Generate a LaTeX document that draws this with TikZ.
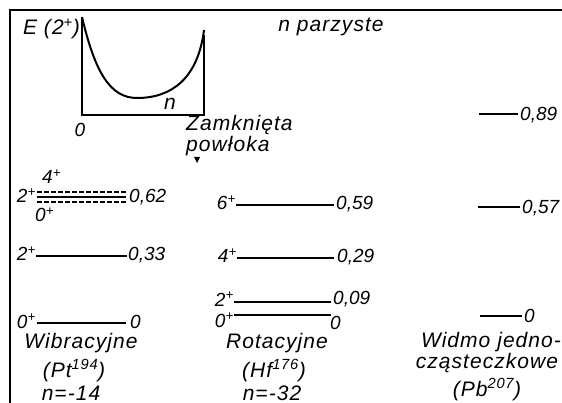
\documentclass[tikz,border=0pt]{standalone}
\usepackage{fontspec}
\newfontfamily\hand{Liberation Sans}[LetterSpace=5]
\newfontfamily\handnum{Liberation Sans}
\newcommand\plusup{\textsuperscript{+}}
\begin{document}
\begin{tikzpicture}[x=1pt,y=-1pt,
  lvl/.style={line width=1.4pt},
  dsh/.style={line width=1.4pt, dash pattern=on 5pt off 2pt},
  axis/.style={line width=1.6pt},
  frame/.style={line width=1.8pt},
  txt/.style={font=\hand\itshape\fontsize{21}{23}\selectfont, inner sep=0pt},
  num/.style={font=\handnum\itshape\fontsize{19}{21}\selectfont, inner sep=0pt}]
\useasboundingbox (0,0) rectangle (562,403);
% frame
\coordinate (fa) at (10,403);
\coordinate (fb) at (10,10);
\coordinate (fc) at (562,10);
\draw[frame] (fa) -- (fb) -- (fc);
% inset graph
\coordinate (ga) at (82,17);
\coordinate (go) at (82,115);
\coordinate (gb) at (204,115);
\coordinate (gc) at (204,35);
\draw[axis] (ga) -- (go) -- (gb) -- (gc);
\draw[line width=2pt] (ga) .. controls (95,72) and (110,98) .. (137,98)
  .. controls (172,98) and (198,78) .. (204,30);
\node[txt, anchor=base east] (E) at (80,35) {E (2\plusup)};
\node[txt, anchor=base] (ncur) at (170,110) {n};
\node[num, anchor=base] (zero) at (80,137) {0};
\node[txt, anchor=base west] (zam) at (186,131) {Zamknięta};
\node[txt, anchor=base west] (pow) at (186,152) {powłoka};
\fill (194,157) -- (200,157) -- (197,163) -- cycle;
\node[txt, anchor=base] (npar) at (331,32) {n parzyste};
% column 1: Wibracyjne
\coordinate (w0a) at (37,323); \coordinate (w0b) at (126,323);
\draw[lvl] (w0a) -- (w0b);
\node[num, anchor=base east] (w0L) at (36,328) {0\plusup};
\node[num, anchor=base west] (w0R) at (130,328) {0};
\coordinate (w2a) at (36,256); \coordinate (w2b) at (127,256);
\draw[lvl] (w2a) -- (w2b);
\node[num, anchor=base east] (w2L) at (36,261) {2\plusup};
\node[num, anchor=base west] (w2R) at (128,261) {0,33};
\coordinate (t1a) at (37,192); \coordinate (t1b) at (126,192);
\coordinate (t2a) at (37,197); \coordinate (t2b) at (126,197);
\coordinate (t3a) at (37,202); \coordinate (t3b) at (126,202);
\draw[dsh] (t1a) -- (t1b);
\draw[lvl] (t2a) -- (t2b);
\draw[dsh] (t3a) -- (t3b);
\node[num, anchor=base east] (t2L) at (36,203) {2\plusup};
\node[num, anchor=base west] (t1L) at (42,184) {4\plusup};
\node[num, anchor=base west] (t3L) at (35,222) {0\plusup};
\node[num, anchor=base west] (tR) at (129,203) {0,62};
\node[txt, anchor=base] (wib) at (81,348) {Wibracyjne};
\node[txt, anchor=base] (pt) at (74,377) {(Pt\textsuperscript{194})};
\node[txt, anchor=base] (n14) at (71,400) {n=-14};
% column 2: Rotacyjne
\coordinate (r6a) at (236,205); \coordinate (r6b) at (334,205);
\draw[lvl] (r6a) -- (r6b);
\node[num, anchor=base east] (r6L) at (236,210) {6\plusup};
\node[num, anchor=base west] (r6R) at (336,210) {0,59};
\coordinate (r4a) at (237,258); \coordinate (r4b) at (334,258);
\draw[lvl] (r4a) -- (r4b);
\node[num, anchor=base east] (r4L) at (237,263) {4\plusup};
\node[num, anchor=base west] (r4R) at (337,263) {0,29};
\coordinate (r2a) at (234,302); \coordinate (r2b) at (331,302);
\draw[lvl] (r2a) -- (r2b);
\node[num, anchor=base east] (r2L) at (234,306) {2\plusup};
\node[num, anchor=base west] (r2R) at (333,305) {0,09};
\coordinate (r0a) at (234,315); \coordinate (r0b) at (331,315);
\draw[lvl] (r0a) -- (r0b);
\node[num, anchor=base east] (r0L) at (234,327) {0\plusup};
\node[num, anchor=base west] (r0R) at (330,329) {0};
\node[txt, anchor=base] (rot) at (277,348) {Rotacyjne};
\node[txt, anchor=base] (hf) at (274,377) {(Hf\textsuperscript{176})};
\node[txt, anchor=base] (n32) at (272,400) {n=-32};
% column 3: single particle
\coordinate (s9a) at (479,114); \coordinate (s9b) at (518,114);
\draw[lvl] (s9a) -- (s9b);
\node[num, anchor=base west] (s9R) at (520,121) {0,89};
\coordinate (s5a) at (478,207); \coordinate (s5b) at (520,207);
\draw[lvl] (s5a) -- (s5b);
\node[num, anchor=base west] (s5R) at (522,214) {0,57};
\coordinate (s0a) at (480,316); \coordinate (s0b) at (522,316);
\draw[lvl] (s0a) -- (s0b);
\node[num, anchor=base west] (s0R) at (524,323) {0};
\node[txt, anchor=base] (wid) at (491,347) {Widmo jedno-};
\node[txt, anchor=base] (cz) at (487,368) {cząsteczkowe};
\node[txt, anchor=base] (pb) at (487,396) {(Pb\textsuperscript{207})};
\end{tikzpicture}
\end{document}
